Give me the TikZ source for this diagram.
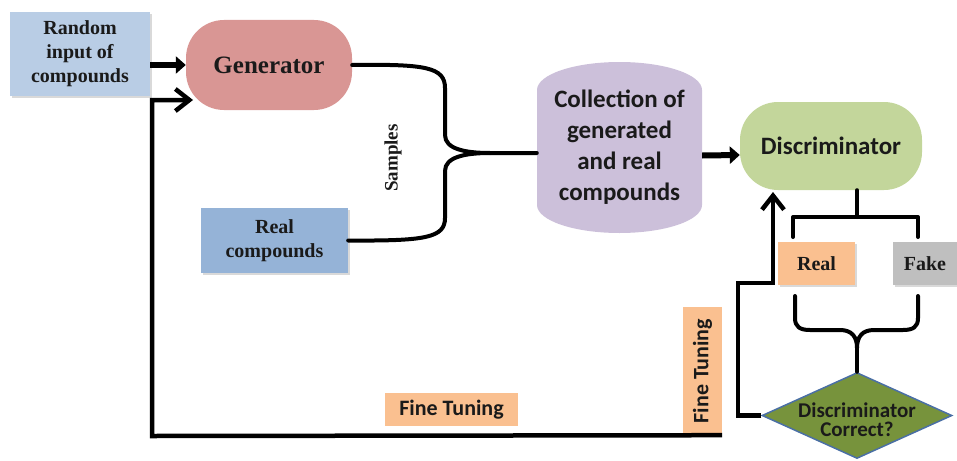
\documentclass[tikz,border=0pt]{standalone}
\usepackage{fontspec}
\setmainfont{Liberation Serif}
\newfontfamily\calfont{Carlito}
\usetikzlibrary{arrows.meta,shapes.geometric,shadows,calc}
\definecolor{randc}{HTML}{B9CDE5}
\definecolor{genc}{HTML}{D99694}
\definecolor{realcc}{HTML}{95B3D7}
\definecolor{collc}{HTML}{CCC0DA}
\definecolor{discc}{HTML}{C3D69B}
\definecolor{orc}{HTML}{FAC090}
\definecolor{fakec}{HTML}{BFBFBF}
\definecolor{diamc}{HTML}{77933C}
\definecolor{diamb}{HTML}{4A6FA5}
\definecolor{txt}{HTML}{1A1A1A}
\begin{document}
\begin{tikzpicture}[x=1pt,y=1pt,
  shad/.style={drop shadow={opacity=0.3,shadow xshift=1.5pt,shadow yshift=-2pt}},
  sbox/.style={inner sep=0pt, align=center, text=txt, shad},
  serifb/.style={font=\fontsize{20}{24}\selectfont\bfseries},
  calb/.style 2 args={font=\calfont\fontsize{#1}{#2}\selectfont\bfseries},
  stadium/.style={inner sep=0pt, rounded corners=38pt, align=center, text=txt},
  wire/.style={line width=4pt, line cap=round, line join=round},
  fbwire/.style={line width=4.5pt, line join=miter},
  bigarrow/.style={line width=6pt, -{Triangle[length=10pt,width=17pt]}},
  openarrow/.style={-{Straight Barb[length=14pt,width=22pt]}}
]
\useasboundingbox (0,0) rectangle (957,-460);

% Nodes
\node[sbox, fill=randc, minimum width=140pt, minimum height=83pt, serifb] (random) at (80,-54) {Random\\input of\\compounds};
\node[stadium, fill=genc, minimum width=166pt, minimum height=90pt, font=\fontsize{25}{30}\selectfont\bfseries] (gen) at (269,-65) {Generator};
\node[sbox, fill=realcc, minimum width=147pt, minimum height=65pt, serifb] (realc) at (274.5,-240.5) {Real\\compounds};
\node[rotate=90, text=txt, font=\fontsize{19}{22}\selectfont\bfseries] (samples) at (393,-158) {Samples};

% Collection (cylinder-like)
\fill[collc] (537,-90) arc[start angle=180,end angle=0,x radius=82.5,y radius=28] -- (702,-205)
  arc[start angle=0,end angle=-180,x radius=82.5,y radius=28] -- cycle;
\node[inner sep=0pt, minimum width=165pt, minimum height=170pt, align=center, text=txt, calb={25}{31}] (coll) at (619.5,-147.5) {Collection of\\generated\\and real\\compounds};

\node[stadium, fill=discc, minimum width=182pt, minimum height=88pt, calb={25}{30}] (disc) at (831,-146) {Discriminator};
\node[sbox, fill=orc, minimum width=77pt, minimum height=43pt, serifb] (real) at (816.5,-263.5) {Real};
\node[sbox, fill=fakec, minimum width=64pt, minimum height=43pt, serifb] (fake) at (925,-263.5) {Fake};

\node[diamond, draw=diamb, line width=1.5pt, fill=diamc, minimum width=190pt, minimum height=86pt, inner sep=0pt, aspect=2.2] (diam) at (857,-415.5) {};
\node[align=center, text=txt, calb={21}{19}] (diamtext) at (857,-420) {Discriminator\\Correct?};

\node[fill=orc, inner sep=0pt, minimum width=133pt, minimum height=33pt, text=txt, calb={22}{26}] (ft1) at (451.5,-409.5) {Fine Tuning};
\node[fill=orc, inner sep=0pt, rotate=90, minimum width=128pt, minimum height=39pt, text=txt, calb={22}{26}] (ft2) at (702.5,-371) {Fine Tuning};

% Arrows
\draw[bigarrow] (random.east |- gen.west) -- (gen.west);
\draw[bigarrow] ($(coll.east)+(0,-8)$) -- ($(disc.west)+(0,-9)$);

% Samples brace
\coordinate (tip) at (490,-153);
\draw[wire] (gen.east) .. controls (425,-64) and (445,-67) .. (445,-88) -- (445,-135)
   .. controls (445,-149) and (465,-153) .. (tip) -- (coll.west |- tip);
\draw[wire] (realc.east) .. controls (425,-241) and (445,-238) .. (445,-218) -- (445,-171)
   .. controls (445,-157) and (465,-153) .. (tip);

% Discriminator to Real/Fake bracket
\coordinate (stem) at (857,-217);
\draw[wire] (stem |- disc.south) -- (stem);
\draw[wire] (793,-237) -- (793,-217) -- (918,-217) -- (918,-237);

% Real/Fake to diamond brace
\coordinate (btip) at (857,-348);
\draw[wire] (795,-296) -- (795,-318) .. controls (795,-327) and (800,-330) .. (810,-330) -- (840,-330)
   .. controls (852,-330) and (857,-337) .. (btip);
\draw[wire] (918,-296) -- (918,-318) .. controls (918,-327) and (913,-330) .. (903,-330) -- (874,-330)
   .. controls (862,-330) and (857,-337) .. (btip);
\draw[wire] (btip) -- (diam.north);

% Feedback from diamond to discriminator
\draw[fbwire, openarrow] (diam.west) -- (738,-415.5) -- (738,-283) -- (773,-283) -- (773,-192);

% Feedback to generator
\draw[fbwire, openarrow] (ft2.south west) -- (152,-436) -- (152,-100) -- (193,-100);
\end{tikzpicture}
\end{document}
